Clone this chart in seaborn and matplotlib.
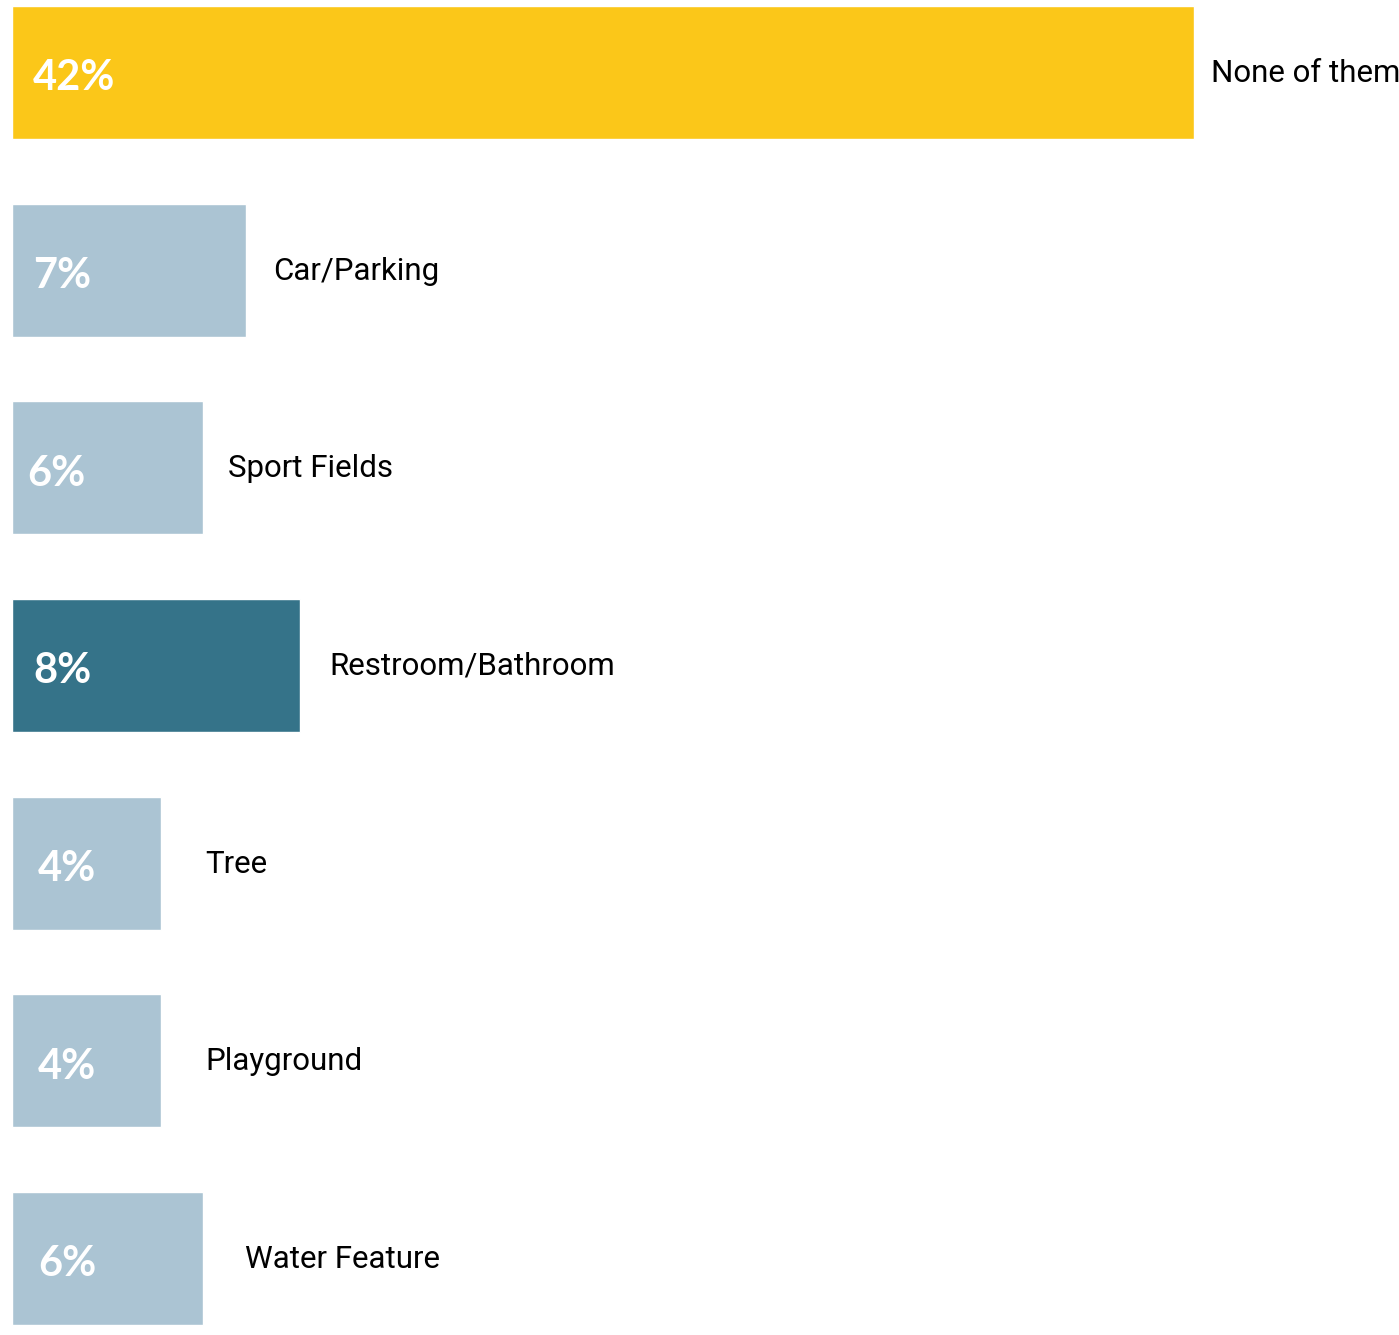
import matplotlib
matplotlib.use("Agg")
import matplotlib.pyplot as plt
import seaborn as sns
import pandas as pd

# ---- data ----
categories = ["None of them", "Car/Parking", "Sport Fields", "Restroom/Bathroom",
              "Tree", "Playground", "Water Feature"]
bar_lengths = [42.0, 8.3, 6.8, 10.25, 5.3, 5.3, 6.8]   # bar lengths as drawn
pct_labels = ["42%", "7%", "6%", "8%", "4%", "4%", "6%"]
bar_colors = ["#FBC719", "#ABC4D3", "#ABC4D3", "#357389", "#ABC4D3", "#ABC4D3", "#ABC4D3"]

# ---- layout (pixel offsets) ----
pct_x_px = [21, 21, 15, 21, 26, 26, 26]          # from bar start
cat_x_px = [17, 28, 25, 29, 44, 44, 42]          # from bar end

sns.set_theme(style="white")
plt.rcParams['font.family'] = ['Lato', 'DejaVu Sans']

W, H = 1399, 1335
fig = plt.figure(figsize=(W / 100, H / 100), dpi=100)
ax = fig.add_axes([0, 0, 1, 1])

df = pd.DataFrame({"cat": categories, "val": bar_lengths})
sns.barplot(data=df, y="cat", x="val", hue="cat", palette=bar_colors,
            legend=False, width=0.673, saturation=1, ax=ax, orient="h")

px_per_unit = 28.14
x0 = 12
ax.set_xlim(-x0 / px_per_unit, (W - x0) / px_per_unit)
pitch = 197.67
top_c = 72.5
ax.set_ylim((H - top_c) / pitch, -top_c / pitch)
ax.axis("off")

for i, (v, lab, cat) in enumerate(zip(bar_lengths, pct_labels, categories)):
    ax.text(pct_x_px[i] / px_per_unit, i + 0.03, lab, color="white", fontsize=30,
            fontweight="bold", va="center", ha="left")
    ax.text(v + cat_x_px[i] / px_per_unit, i + 0.005, cat, color="black", fontsize=22.5,
            va="center", ha="left", family=["Roboto", "DejaVu Sans"])

fig.savefig("out.png", dpi=100)
